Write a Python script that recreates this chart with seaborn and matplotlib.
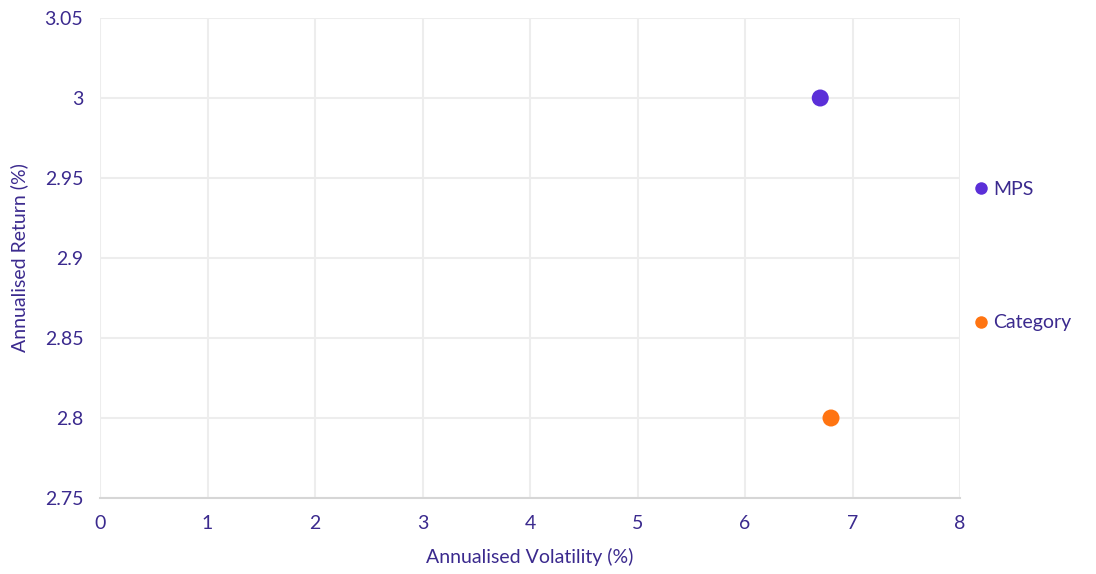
import matplotlib
matplotlib.use("Agg")
import matplotlib.pyplot as plt
import pandas as pd
import seaborn as sns

# ── Data ──────────────────────────────────────────────────────────────────────
SERIES = ["MPS", "Category"]
VOLATILITY = [6.7, 6.8]
RETURNS = [3.0, 2.8]
COLORS = ["#5B2FD8", "#FF7411"]

X_TICKS = [0, 1, 2, 3, 4, 5, 6, 7, 8]
Y_TICKS = [2.75, 2.8, 2.85, 2.9, 2.95, 3.0, 3.05]
Y_LABELS = ["2.75", "2.8", "2.85", "2.9", "2.95", "3", "3.05"]

TEXT = "#3B2A8E"

# ── Style ─────────────────────────────────────────────────────────────────────
sns.set_theme(style="white")
plt.rcParams["font.family"] = ["Lato", "DejaVu Sans"]

df = pd.DataFrame({"series": SERIES, "vol": VOLATILITY, "ret": RETURNS})

fig = plt.figure(figsize=(10.96, 5.74), dpi=100)
ax = fig.add_axes([100 / 1096, 1 - 498 / 574, 860 / 1096, 480 / 574])

sns.scatterplot(data=df, x="vol", y="ret", hue="series", palette=COLORS,
                s=150, edgecolor="none", ax=ax, legend=False, zorder=3)

ax.set_xlim(0, 8)
ax.set_ylim(2.75, 3.05)
ax.set_xticks(X_TICKS)
ax.set_yticks(Y_TICKS)
ax.set_yticklabels(Y_LABELS)
ax.grid(True, color="#EDEDED", linewidth=1.5)
ax.set_axisbelow(True)
for side in ["top", "right", "left"]:
    ax.spines[side].set_visible(False)
ax.spines["bottom"].set_color("#D6D6D6")
ax.spines["bottom"].set_linewidth(1.5)

ax.tick_params(axis="both", colors=TEXT, labelsize=14, length=0, pad=12)
ax.set_xlabel("Annualised Volatility (%)", color=TEXT, fontsize=14, labelpad=12)
ax.set_ylabel("Annualised Return (%)", color=TEXT, fontsize=14, labelpad=12)

handles = [plt.Line2D([], [], marker="o", linestyle="", markersize=9,
                      markerfacecolor=c, markeredgecolor="none") for c in COLORS]
leg = fig.legend(handles, SERIES, loc="center left",
                 bbox_to_anchor=(975 / 1096, 1 - 256 / 574), frameon=False,
                 fontsize=14, labelspacing=6.0, handlelength=0.6,
                 handletextpad=0.35, borderpad=0, borderaxespad=0)
for t in leg.get_texts():
    t.set_color(TEXT)

fig.savefig("out.png", dpi=100)
